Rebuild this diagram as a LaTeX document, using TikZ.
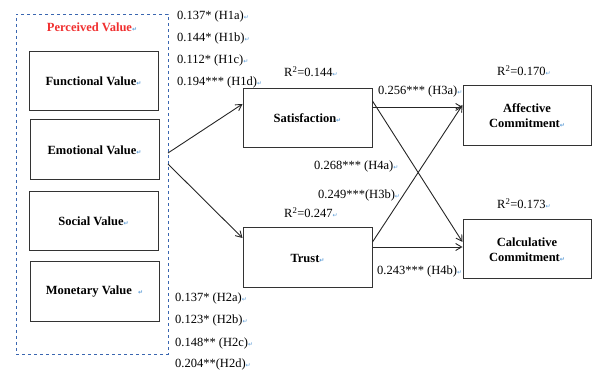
\documentclass[tikz,border=0pt]{standalone}
\usepackage{fontspec}
\setmainfont{Liberation Serif}
\newfontfamily\symfont{DejaVu Sans}
\usetikzlibrary{arrows.meta}
\definecolor{pmblue}{HTML}{5B9BD5}
\definecolor{dashblue}{HTML}{3A66B0}
\definecolor{pvred}{HTML}{F03030}
\newcommand\pmk{{\symfont\fontsize{6}{6}\selectfont\textcolor{pmblue}{↵}}}
\tikzset{
  box/.style={draw=black!80, line width=1pt, inner sep=0pt, align=center, font=\fontsize{12.5}{15}\selectfont\bfseries},
  lbl/.style={inner sep=0pt, anchor=west, font=\fontsize{12.5}{15}\selectfont},
  arr/.style={-{Straight Barb[length=6pt,width=7pt]}, line width=0.9pt, black!85},
}
\begin{document}
\begin{tikzpicture}[x=1pt,y=-1pt]
\useasboundingbox (0,0) rectangle (592,371);
\node[draw=dashblue, dashed, line width=0.8pt, minimum width=152pt, minimum height=340pt, inner sep=0pt] (pv) at (92,184) {};
\node[inner sep=0pt, font=\fontsize{12.5}{15}\selectfont\bfseries, text=pvred] (pvt) at (92,27) {Perceived Value\pmk};
\node[box, minimum width=129pt, minimum height=59pt] (fv) at (93.5,81.5) {Functional Value\pmk};
\node[box, minimum width=129pt, minimum height=60pt] (ev) at (94.5,150) {Emotional Value\pmk};
\node[box, minimum width=129pt, minimum height=59pt] (sv) at (93.5,221.5) {Social Value\pmk};
\node[box, minimum width=129pt, minimum height=60pt] (mv) at (94.5,292) {Monetary Value\ \ \pmk};
\node[box, minimum width=129pt, minimum height=59pt] (sat) at (307.5,118.5) {Satisfaction\pmk};
\node[box, minimum width=129pt, minimum height=60pt] (tr) at (307.5,258) {Trust\pmk};
\node[box, minimum width=128pt, minimum height=60pt] (aff) at (527,116) {Affective\\Commitment\pmk};
\node[box, minimum width=128pt, minimum height=59pt] (cal) at (527,249.5) {Calculative\\Commitment\pmk};
% labels
\node[lbl] (h1a) at (177,16) {0.137* (H1a)\pmk};
\node[lbl] (h1b) at (177,38) {0.144* (H1b)\pmk};
\node[lbl] (h1c) at (177,60) {0.112* (H1c)\pmk};
\node[lbl] (h1d) at (177,82) {0.194*** (H1d)\pmk};
\node[lbl] (h2a) at (175,298) {0.137* (H2a)\pmk};
\node[lbl] (h2b) at (175,320) {0.123* (H2b)\pmk};
\node[lbl] (h2c) at (175,343) {0.148** (H2c)\pmk};
\node[lbl] (h2d) at (175,364) {0.204**(H2d)\pmk};
\node[lbl] (r1) at (284,72) {R\textsuperscript{2}=0.144\pmk};
\node[lbl] (r2) at (284,213) {R\textsuperscript{2}=0.247\pmk};
\node[lbl] (r3) at (497,71) {R\textsuperscript{2}=0.170\pmk};
\node[lbl] (r4) at (497,204) {R\textsuperscript{2}=0.173\pmk};
\node[lbl] (h3a) at (378,91) {0.256*** (H3a)\pmk};
\node[lbl] (h4a) at (314,166) {0.268*** (H4a)\pmk};
\node[lbl] (h3b) at (318,195) {0.249***(H3b)\pmk};
\node[lbl] (h4b) at (377,271) {0.243*** (H4b)\pmk};
% arrows
\coordinate (e1) at (168,153);
\coordinate (e2) at (168,164);
\draw[arr] (e1) -- ([yshift=14.5pt]sat.west);
\draw[arr] (e2) -- ([yshift=20pt]tr.west);
\draw[arr] ([yshift=11.5pt]sat.east) -- ([yshift=9pt]aff.west);
\draw[arr] ([yshift=17.5pt]sat.east) -- ([yshift=7.5pt]cal.west);
\draw[arr] ([yshift=16pt]tr.east) -- ([yshift=11pt]aff.west);
\draw[arr] ([yshift=11pt]tr.east) -- ([yshift=2.5pt]cal.west);
\end{tikzpicture}
\end{document}
